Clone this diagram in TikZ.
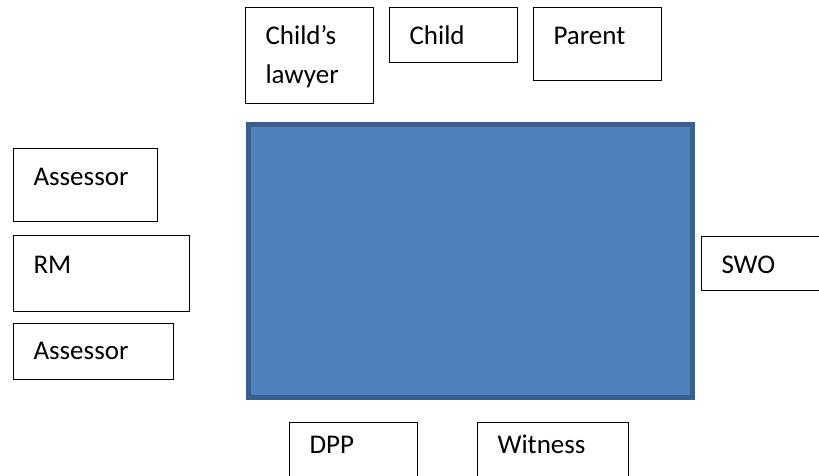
\documentclass[tikz,border=0pt]{standalone}
\usepackage{fontspec}
\setmainfont{Carlito}
\definecolor{roomfill}{HTML}{4F81BD}
\definecolor{roomedge}{HTML}{3A5F8E}
\tikzset{
  who/.style={draw, line width=1pt, anchor=north west, align=left,
    inner xsep=20pt, inner ysep=0pt, font=\fontsize{27}{39}\selectfont},
  room/.style={draw=roomedge, fill=roomfill, line width=5pt, anchor=north west,
    inner sep=0pt}
}
\begin{document}
\begin{tikzpicture}[x=1pt, y=-1pt]
  \useasboundingbox (0,0) rectangle (819,475);
  % the court room
  \node[room, minimum width=444pt, minimum height=273pt] (court) at (245.5,121.5) {};
  % top row
  \node[who, text width=88pt, text height=37pt, text depth=59pt] (lawyer) at (245,7) {Child’s\\lawyer};
  \node[who, text width=88pt, text height=37pt, text depth=18pt] (child) at (389,7) {Child};
  \node[who, text width=88pt, text height=37pt, text depth=36pt] (parent) at (533,7) {Parent};
  % bench on the left
  \node[who, text width=104pt, text height=37pt, text depth=36pt] (assessora) at (13,148) {Assessor};
  \node[who, text width=136pt, text height=38pt, text depth=38pt] (rm) at (13,235) {RM};
  \node[who, text width=120pt, text height=36pt, text depth=20pt] (assessorb) at (13,323) {Assessor};
  % right side
  \node[who, text width=90pt, text height=37pt, text depth=17pt] (swo) at (701,236) {SWO};
  % bottom row
  \node[who, text width=88pt, text height=31pt, text depth=37pt] (dpp) at (289,422) {DPP};
  \node[who, text width=111pt, text height=31pt, text depth=37pt] (witness) at (477,422) {Witness};
\end{tikzpicture}
\end{document}
